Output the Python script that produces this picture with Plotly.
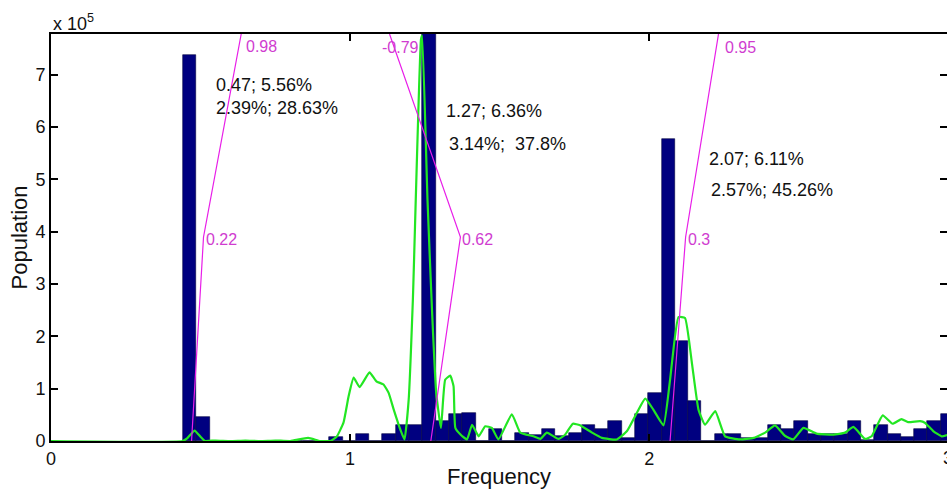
import numpy as np
import plotly.graph_objects as go

# ---------------- data ----------------
bin_width = 0.04444
first_center = 0.464
counts = [737000, 45000, 0, 0, 0, 0, 0, 0, 0, 0,
          0, 8000, 0, 14000, 0, 14000, 31000, 30000, 950000, 38000,
          52000, 53000, 0, 23000, 0, 16000, 12000, 22000, 9000, 16000,
          30000, 22000, 38000, 6000, 52000, 91000, 577000, 192000, 76000, 0,
          14000, 14000, 6000, 6000, 31000, 22000, 38000, 14000, 14000, 14000,
          38000, 2000, 30000, 14000, 8000, 22000, 38000, 52000]
bin_centers = first_center + bin_width * np.arange(len(counts))

green_x = [0, 0.44, 0.455, 0.48, 0.50, 0.515, 0.55, 0.6, 0.65, 0.7, 0.75, 0.8, 0.86, 0.9,
           0.934, 0.955, 0.978, 0.995, 1.012, 1.032, 1.065, 1.088, 1.112, 1.129, 1.146, 1.168,
           1.182, 1.196, 1.210, 1.237, 1.241, 1.259, 1.274, 1.288, 1.304, 1.318, 1.335, 1.346,
           1.352, 1.37, 1.391, 1.408, 1.430, 1.452, 1.474, 1.496, 1.541, 1.569, 1.613, 1.636,
           1.658, 1.697, 1.719, 1.745, 1.769, 1.809, 1.842, 1.892, 1.926, 1.959, 1.987, 2.014,
           2.048, 2.070, 2.098, 2.120, 2.143, 2.165, 2.187, 2.221, 2.254, 2.304, 2.349, 2.388,
           2.421, 2.454, 2.482, 2.516, 2.560, 2.616, 2.655, 2.683, 2.722, 2.744, 2.781, 2.814,
           2.844, 2.866, 2.906, 2.922, 2.950, 2.978, 3.0]
green_y = [0, 0, 5000, 20000, 8000, 0, 1000, 0, 1000, 0, 1000, 0, 6000, 0,
           0, 8000, 35000, 85000, 121000, 103000, 131000, 114000, 108000, 92000, 60000, 22000,
           3000, 79000, 270000, 767000, 775000, 460000, 250000, 92000, 25000, 117000, 125000, 105000,
           25000, 12000, 3000, 31000, 9000, 28000, 25000, 3000, 51000, 16000, 9000, 4000,
           16000, 4000, 12000, 33000, 30000, 16000, 6000, 3000, 19000, 54000, 81000, 60000,
           30000, 117000, 237000, 235000, 149000, 60000, 31000, 57000, 9000, 3000, 6000, 16000,
           30000, 10000, 3000, 25000, 14000, 12000, 16000, 27000, 4000, 9000, 49000, 33000,
           42000, 36000, 38000, 35000, 19000, 9000, 12000]

# magenta polylines (bottom, bend, top) and their labels
mag_lines = [
    ([0.47, 0.510, 0.636], [0, 390000, 778000]),
    ([1.27, 1.369, 1.132], [0, 390000, 778000]),
    ([2.07, 2.122, 2.232], [0, 390000, 778000]),
]
mag_labels = ["0.98", "0.22", "-0.79", "0.62", "0.95", "0.3"]
mag_label_x = [0.644, 0.510, 1.099, 1.369, 2.246, 2.124]
mag_label_y = [754000, 385000, 752000, 385000, 752000, 385000]

info_texts = ["0.47; 5.56%", "2.39%; 28.63%", "1.27; 6.36%", "3.14%;  37.8%",
              "2.07; 6.11%", "2.57%; 45.26%"]
info_x = [0.544, 0.544, 1.313, 1.324, 2.195, 2.201]
info_y = [681000, 637000, 630000, 568000, 539000, 479000]

y_tickvals = [0, 100000, 200000, 300000, 400000, 500000, 600000, 700000]
y_ticktext = ["0", "1", "2", "3", "4", "5", "6", "7"]
x_tickvals = [0, 1, 2]
x_ticktext = ["0", "1", "2"]

YMAX = 778000
XMAX = 2.996
FONT = "Arial, Liberation Sans, sans-serif"

fig = go.Figure()
fig.add_trace(go.Bar(x=bin_centers, y=counts, width=bin_width,
                     marker=dict(color="#000080", line=dict(color="#000040", width=0.6)),
                     showlegend=False, hoverinfo="skip"))
fig.add_trace(go.Scatter(x=green_x, y=green_y, mode="lines",
                         line=dict(color="#22e622", width=2.2, shape="spline", smoothing=0.4),
                         showlegend=False))
for lx, ly in mag_lines:
    fig.add_trace(go.Scatter(x=lx, y=ly, mode="lines",
                             line=dict(color="#e81ee8", width=1.2), showlegend=False))
# invisible trace for the right-hand tick axis
fig.add_trace(go.Scatter(x=[None], y=[None], yaxis="y2", showlegend=False))

annotations = []
for t, x, y in zip(mag_labels, mag_label_x, mag_label_y):
    annotations.append(dict(x=x, y=y, xref="x", yref="y", text=t, showarrow=False,
                            xanchor="left", yanchor="middle",
                            font=dict(family=FONT, size=16, color="#d03cd0")))
for t, x, y in zip(info_texts, info_x, info_y):
    annotations.append(dict(x=x, y=y, xref="x", yref="y", text=t, showarrow=False,
                            xanchor="left", yanchor="middle",
                            font=dict(family=FONT, size=18, color="#111111")))
annotations.append(dict(x=0, y=1, xref="paper", yref="paper", text="x 10<sup>5</sup>",
                        showarrow=False, xanchor="left", yanchor="bottom", yshift=-2,
                        font=dict(family=FONT, size=18, color="#111111")))
annotations.append(dict(x=1, y=0, xref="paper", yref="paper", text="3", showarrow=False,
                        xanchor="center", yanchor="top", xshift=1, yshift=-5,
                        font=dict(family=FONT, size=18, color="#111111")))

fig.update_layout(
    width=947, height=489,
    margin=dict(l=51, r=0, t=34, b=48, pad=0),
    plot_bgcolor="white", paper_bgcolor="white",
    bargap=0,
    font=dict(family=FONT, size=18, color="#111111"),
    annotations=annotations,
    xaxis=dict(range=[0, XMAX], tickvals=x_tickvals, ticktext=x_ticktext,
               ticks="inside", ticklen=7, tickwidth=2, tickcolor="black",
               showline=True, linecolor="black", linewidth=2, mirror="ticks",
               showgrid=False, zeroline=False,
               title=dict(text="Frequency", font=dict(size=22), standoff=2),
               tickfont=dict(size=18)),
    yaxis=dict(range=[0, YMAX], tickvals=y_tickvals, ticktext=y_ticktext,
               ticks="inside", ticklen=7, tickwidth=2, tickcolor="black",
               showline=True, linecolor="black", linewidth=2, mirror=False,
               showgrid=False, zeroline=False,
               title=dict(text="Population", font=dict(size=22), standoff=2),
               tickfont=dict(size=18)),
    yaxis2=dict(range=[0, YMAX], tickvals=y_tickvals, overlaying="y", side="right",
                anchor="x", ticks="inside", ticklen=7, tickwidth=2, tickcolor="black",
                showticklabels=False, showline=False, showgrid=False, zeroline=False),
)

fig.write_html("out.html")
